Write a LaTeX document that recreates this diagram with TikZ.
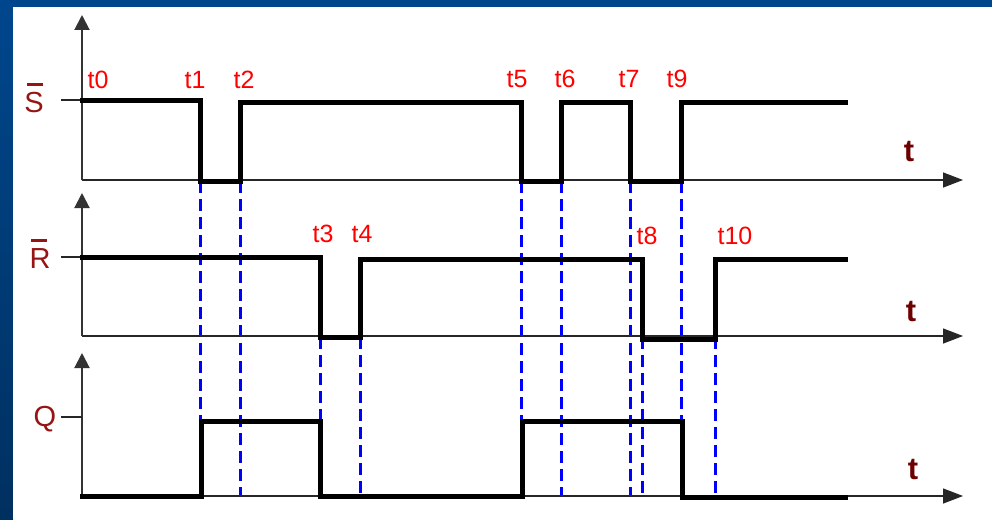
\documentclass[tikz,border=0pt]{standalone}
\usepackage{fontspec}
\setmainfont{Liberation Sans}
\usetikzlibrary{arrows.meta}
\definecolor{bgblue}{RGB}{0,70,140}
\definecolor{bgdark}{RGB}{0,48,96}
\definecolor{sigred}{RGB}{150,20,20}
\definecolor{tred}{RGB}{110,0,0}
\definecolor{lblred}{RGB}{255,0,0}
\definecolor{dashblue}{RGB}{0,0,255}
\tikzset{
  sig/.style={line width=5pt, black, line join=miter, line cap=rect},
  haxis/.style={line width=1.4pt, black!85, -{Triangle[length=20pt,width=15pt]}},
  vaxis/.style={line width=2pt, black!80, -{Triangle[length=15pt,width=15pt]}},
  tick/.style={line width=1.4pt, black!85},
  guide/.style={line width=3pt, dashblue, dash pattern=on 12pt off 6pt},
  tlbl/.style={text=lblred, font=\fontsize{25}{25}\selectfont, inner sep=0pt},
  axlbl/.style={text=tred, font=\bfseries\fontsize{31}{31}\selectfont, inner sep=0pt},
  siglbl/.style={text=sigred, font=\fontsize{29}{29}\selectfont, inner sep=0pt},
  obar/.style={line width=3pt, sigred}
}
\begin{document}
\begin{tikzpicture}[x=1pt,y=-1pt]
\useasboundingbox (0,0) rectangle (992,519);
\fill[bgblue] (0,0) rectangle (992,519);
\shade[top color=bgblue, bottom color=bgdark] (0,7) rectangle (13,519);
\fill[white] (13,7) rectangle (992,519);

% blue dashed guides
\draw[guide] (200,181) -- (200,497);
\draw[guide] (240,181) -- (240,497);
\draw[guide] (320,337) -- (320,497);
\draw[guide] (360,337) -- (360,497);
\draw[guide] (521,181) -- (521,497);
\draw[guide] (561,181) -- (561,497);
\draw[guide] (630,181) -- (630,497);
\draw[guide] (642,337) -- (642,497);
\draw[guide] (681,181) -- (681,497);
\draw[guide] (715,337) -- (715,497);

% axes
\coordinate (o1) at (82,180);
\coordinate (o2) at (82,336);
\coordinate (o3) at (82,496);
\coordinate (e1) at (963,180);
\coordinate (e2) at (963,336);
\coordinate (e3) at (963,496);
\coordinate (v1) at (82,15);
\coordinate (v2) at (82,193);
\coordinate (v3) at (82,353);
\draw[haxis] (o1) -- (e1);
\draw[haxis] (o2) -- (e2);
\draw[haxis] (o3) -- (e3);
\draw[vaxis] (o1) -- (v1);
\draw[vaxis] (o2) -- (v2);
\draw[vaxis] (o3) -- (v3);

% ticks
\coordinate (k1) at (61,100);
\coordinate (k2) at (61,257);
\coordinate (k3) at (61,417);
\draw[tick] (k1) -- (82,100);
\draw[tick] (k2) -- (82,257);
\draw[tick] (k3) -- (82,417);

% signals
\draw[sig] (82,100) -- (200,100) -- (200,181) -- (240,181) -- (240,102) -- (521,102)
  -- (521,181) -- (561,181) -- (561,102) -- (630,102) -- (630,181) -- (681,181)
  -- (681,102) -- (845,102);
\draw[sig] (82,257) -- (320,257) -- (320,337) -- (360,337) -- (360,259) -- (642,259)
  -- (642,339) -- (715,339) -- (715,259) -- (845,259);
\draw[sig] (82,496) -- (201,496) -- (201,421) -- (320,421) -- (320,496) -- (522,496)
  -- (522,421) -- (682,421) -- (682,497) -- (845,497);

% signal labels
\node[siglbl] (S) at (34,103) {S};
\draw[obar] (27,84) -- (43,84);
\node[siglbl] (R) at (40,259) {R};
\draw[obar] (31,240) -- (47,240);
\node[siglbl] (Q) at (45,419) {Q};

% axis labels
\node[axlbl] (ta) at (909,152) {t};
\node[axlbl] (tb) at (911,312) {t};
\node[axlbl] (tc) at (913,470) {t};

% time labels
\node[tlbl] (t0) at (98,80) {t0};
\node[tlbl] (t1) at (195,80) {t1};
\node[tlbl] (t2) at (244,80) {t2};
\node[tlbl] (t5) at (517,79) {t5};
\node[tlbl] (t6) at (565,79) {t6};
\node[tlbl] (t7) at (629,79) {t7};
\node[tlbl] (t9) at (677,79) {t9};
\node[tlbl] (t3) at (323,234) {t3};
\node[tlbl] (t4) at (362,234) {t4};
\node[tlbl] (t8) at (647,236) {t8};
\node[tlbl] (t10) at (735,236) {t10};
\end{tikzpicture}
\end{document}
